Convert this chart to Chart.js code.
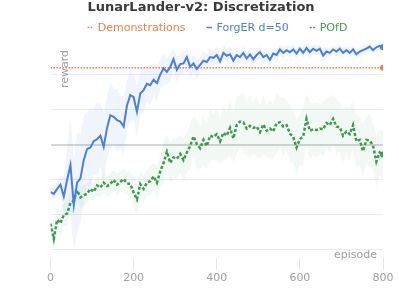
<!DOCTYPE html>
<html>
<head>
<meta charset="utf-8">
<script src="https://cdn.jsdelivr.net/npm/chart.js@4.4.1/dist/chart.umd.min.js"></script>
<style>
  html, body { margin: 0; padding: 0; background: #fff; }
  #wrap { width: 399px; height: 291px; position: relative; }
</style>
</head>
<body>
<div id="wrap"><canvas id="chart"></canvas></div>
<script>
// episodes, every 8
const episodes = [
  0, 8, 16, 24, 32, 40, 48, 56, 64, 72,
  80, 88, 96, 104, 112, 120, 128, 136, 144, 152,
  160, 168, 176, 184, 192, 200, 208, 216, 224, 232,
  240, 248, 256, 264, 272, 280, 288, 296, 304, 312,
  320, 328, 336, 344, 352, 360, 368, 376, 384, 392,
  400, 408, 416, 424, 432, 440, 448, 456, 464, 472,
  480, 488, 496, 504, 512, 520, 528, 536, 544, 552,
  560, 568, 576, 584, 592, 600, 608, 616, 624, 632,
  640, 648, 656, 664, 672, 680, 688, 696, 704, 712,
  720, 728, 736, 744, 752, 760, 768, 776, 784, 792,
  800
];

const forgerMean = [
  -135, -140, -126, -114, -148, -100, -58, -172, -108, -96,
  -44, -12, -8, 10, 16, 26, -6, 48, 84, 80,
  70, 66, 52, 112, 142, 136, 94, 146, 156, 174,
  170, 186, 176, 200, 218, 208, 222, 244, 214, 230,
  232, 250, 222, 232, 216, 228, 240, 236, 250, 248,
  256, 238, 262, 254, 258, 240, 256, 250, 262, 246,
  258, 244, 256, 264, 250, 256, 242, 260, 256, 272,
  262, 270, 264, 272, 260, 274, 262, 276, 264, 274,
  268, 274, 254, 266, 262, 272, 266, 274, 262, 270,
  262, 272, 258, 266, 270, 274, 280, 270, 278, 282,
  278
];

const forgerSpread = [
  12, 16, 20, 28, 55, 95, 135, 130, 145, 125,
  125, 105, 110, 95, 105, 90, 100, 85, 95, 80,
  90, 75, 85, 70, 75, 65, 75, 60, 65, 52,
  58, 46, 52, 42, 44, 36, 40, 32, 38, 30,
  32, 26, 32, 24, 30, 22, 28, 22, 26, 20,
  24, 18, 24, 18, 22, 20, 22, 17, 22, 16,
  20, 16, 20, 15, 19, 17, 20, 15, 18, 14,
  17, 13, 16, 14, 17, 12, 16, 13, 16, 12,
  15, 12, 20, 12, 14, 11, 14, 12, 14, 11,
  14, 11, 13, 12, 13, 10, 12, 10, 11, 9,
  10
];

const pofdMean = [
  -225, -268, -214, -224, -200, -196, -166, -160, -130, -150,
  -144, -140, -126, -134, -116, -122, -108, -118, -112, -100,
  -114, -106, -98, -110, -112, -136, -156, -112, -126, -108,
  -104, -90, -108, -76, -52, -20, -52, -36, -40, -26,
  -44, -22, -4, 24, 2, -10, 14, -4, 26, 22,
  30, 10, 34, 26, 48, 18, 56, 66, 64, 46,
  54, 48, 52, 36, 58, 40, 46, 38, 62, 64,
  52, 56, 32, 22, -8, 16, 24, 74, 40, 44,
  42, 46, 44, 62, 56, 74, 52, 50, 26, 38,
  30, 56, 10, 14, -18, 14, 12, -2, -48, -22,
  -28
];

const pofdSpread = [
  28, 38, 32, 36, 30, 36, 30, 34, 28, 32,
  32, 26, 30, 26, 30, 26, 30, 28, 32, 28,
  32, 28, 34, 30, 38, 42, 46, 36, 40, 36,
  44, 38, 48, 44, 58, 50, 60, 52, 62, 54,
  64, 56, 66, 58, 70, 60, 70, 62, 74, 64,
  76, 64, 78, 66, 80, 70, 84, 74, 86, 76,
  88, 76, 86, 76, 86, 74, 84, 76, 86, 74,
  84, 72, 82, 74, 82, 72, 84, 72, 80, 72,
  80, 70, 80, 70, 80, 70, 78, 70, 78, 68,
  78, 68, 76, 68, 76, 66, 76, 66, 74, 64,
  70
];

const demoEpisodes = [0, 800];
const demoReward = [220, 220];

const xTicks = [0, 200, 400, 600, 800];
const yTicks = [-300, -200, -100, 0, 100, 200];

const BLUE = '#4a7fdc';
const GREEN = '#3d9a4e';
const ORANGE = '#ef7d48';
const GREY = '#9e9e9e';
const FONT = '"DejaVu Sans", sans-serif';

function pts(xs, ys) {
    return xs.map((x, i) => ({ x: x, y: ys[i] }));
}
function band(mean, spread, sign) {
    return episodes.map((x, i) => ({ x: x, y: mean[i] + sign * spread[i] }));
}
function endDot(ctx) {
    return ctx.dataIndex === ctx.dataset.data.length - 1 ? 3 : 0;
}

const legendItems = [
    { text: 'Demonstrations', color: ORANGE, dash: [1.5, 1.5] },
    { text: 'ForgER d=50', color: BLUE, dash: [] },
    { text: 'POfD', color: GREEN, dash: [2, 1.5] }
];

// title, legend and axis titles
const header = {
    id: 'header',
    beforeDatasetsDraw(chart) {
        const c = chart.ctx;
        c.save();
        c.fillStyle = GREY;
        c.font = '11px ' + FONT;
        c.textAlign = 'right';
        c.textBaseline = 'alphabetic';
        c.fillText('episode', 377, 258);
        c.translate(68, 50);
        c.rotate(-Math.PI / 2);
        c.fillText('reward', 0, 0);
        c.restore();
    },
    afterDraw(chart) {
        const c = chart.ctx;
        c.save();
        c.fillStyle = '#3a3a3a';
        c.font = 'bold 13px ' + FONT;
        c.textAlign = 'center';
        c.textBaseline = 'alphabetic';
        c.fillText('LunarLander-v2: Discretization', 201, 10.5);

        c.font = '11px ' + FONT;
        c.textAlign = 'left';
        let x = 97.7;
        legendItems.forEach(item => {
            c.strokeStyle = item.color;
            c.lineWidth = 1.5;
            c.setLineDash(item.dash);
            c.beginPath();
            c.moveTo(x - 10, 27.5);
            c.lineTo(x - 4.5, 27.5);
            c.stroke();
            c.setLineDash([]);
            c.fillStyle = item.color;
            c.fillText(item.text, x, 31.3);
            x += c.measureText(item.text).width + 31;
        });
        c.restore();
    }
};

const ctx = document.getElementById('chart').getContext('2d');
new Chart(ctx, {
    type: 'line',
    data: {
        datasets: [
            {
                label: 'ForgER d=50',
                data: pts(episodes, forgerMean),
                borderColor: BLUE,
                borderWidth: 2,
                pointRadius: endDot,
                pointBackgroundColor: BLUE,
                pointBorderWidth: 0,
                fill: false,
                tension: 0,
                order: 0
            },
            {
                label: 'POfD',
                data: pts(episodes, pofdMean),
                borderColor: GREEN,
                borderWidth: 2.5,
                borderDash: [3, 2],
                pointRadius: endDot,
                pointBackgroundColor: GREEN,
                pointBorderWidth: 0,
                fill: false,
                tension: 0,
                order: 1
            },
            {
                label: 'Demonstrations',
                data: pts(demoEpisodes, demoReward),
                borderColor: ORANGE,
                borderWidth: 1.5,
                borderDash: [1.5, 1.5],
                pointRadius: endDot,
                pointBackgroundColor: ORANGE,
                pointBorderWidth: 0,
                fill: false,
                order: 2
            },
            {
                label: 'forger hi',
                data: band(forgerMean, forgerSpread, 1),
                borderWidth: 0,
                pointRadius: 0,
                fill: false,
                order: 3
            },
            {
                label: 'forger lo',
                data: band(forgerMean, forgerSpread, -1),
                borderWidth: 0,
                pointRadius: 0,
                backgroundColor: 'rgba(74,134,232,0.09)',
                fill: '-1',
                order: 3
            },
            {
                label: 'pofd hi',
                data: band(pofdMean, pofdSpread, 1),
                borderWidth: 0,
                pointRadius: 0,
                fill: false,
                order: 4
            },
            {
                label: 'pofd lo',
                data: band(pofdMean, pofdSpread, -1),
                borderWidth: 0,
                pointRadius: 0,
                backgroundColor: 'rgba(70,170,100,0.07)',
                fill: '-1',
                order: 4
            }
        ]
    },
    options: {
        responsive: true,
        maintainAspectRatio: false,
        devicePixelRatio: 1,
        animation: false,
        layout: { padding: { left: 50.5, right: 16, top: 41, bottom: 0 } },
        plugins: {
            legend: { display: false },
            title: { display: false },
            tooltip: { enabled: false }
        },
        scales: {
            x: {
                type: 'linear',
                min: 0,
                max: 800,
                afterBuildTicks: s => { s.ticks = xTicks.map(v => ({ value: v })); },
                afterFit: s => { s.height = 33; },
                grid: { drawOnChartArea: false, drawTicks: true, tickLength: 12, color: '#e6e6e6' },
                border: { display: false },
                ticks: { color: GREY, font: { size: 11, family: FONT }, padding: 2, maxRotation: 0 }
            },
            y: {
                min: -323,
                max: 296,
                afterBuildTicks: s => { s.ticks = yTicks.map(v => ({ value: v })); },
                afterFit: s => { s.width = 0; },
                grid: {
                    drawTicks: false,
                    color: c => (c.tick && c.tick.value === 0) ? '#d6d6d6' : '#ececec',
                    lineWidth: c => (c.tick && c.tick.value === 0) ? 2 : 1
                },
                border: { display: false },
                ticks: { color: GREY, font: { size: 11, family: FONT }, padding: 14 }
            }
        }
    },
    plugins: [header]
});
</script>
</body>
</html>
